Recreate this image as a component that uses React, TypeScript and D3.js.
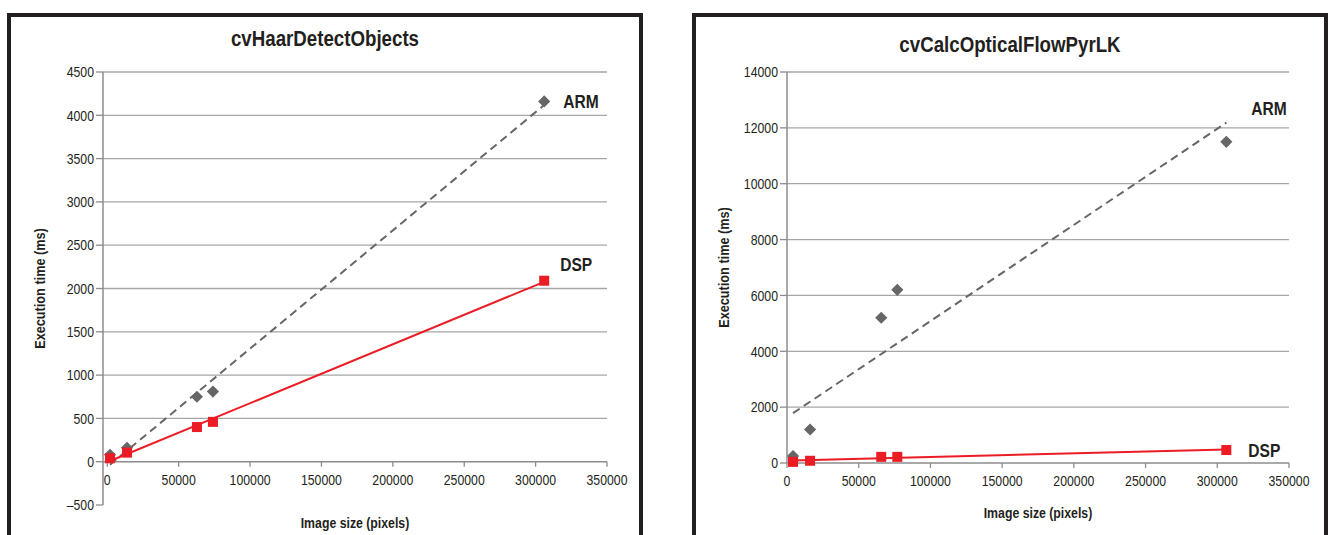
import React from 'react';
import * as d3 from 'd3';

// Image sizes (pixels) and execution times (ms)
const haarSizes = [1900, 13800, 62800, 74000, 306000];
const haarArm = [80, 160, 750, 810, 4160];
const haarDsp = [40, 105, 400, 460, 2090];

const flowSizes = [4200, 16100, 65700, 76900, 306300];
const flowArm = [250, 1200, 5200, 6200, 11500];
const flowDsp = [40, 80, 220, 220, 465];

const xTicks = [0, 50000, 100000, 150000, 200000, 250000, 300000, 350000];
const haarYTicks = [-500, 0, 500, 1000, 1500, 2000, 2500, 3000, 3500, 4000, 4500];
const flowYTicks = [0, 2000, 4000, 6000, 8000, 10000, 12000, 14000];

const FONT = '"Liberation Sans", Arial, sans-serif';
const INK = '#231f20';
const ARM_COLOR = '#666666';
const DSP_COLOR = '#ec1c24';
const GRID = '#a6a6a6';

// least squares fit, like the spreadsheet trendline
const fit = (xs: number[], ys: number[]) => {
  const mx = d3.mean(xs)!;
  const my = d3.mean(ys)!;
  const sxy = d3.sum(xs, (x, i) => (x - mx) * (ys[i] - my));
  const sxx = d3.sum(xs, x => (x - mx) ** 2);
  const slope = sxy / sxx;
  const b = my - slope * mx;
  return (x: number) => b + slope * x;
};

// narrow text: drawn at the origin of a horizontally squeezed group
const T = ({ x, y, size, bold, anchor, rotate, squeeze = 0.82, children }: any) => (
  <g transform={`translate(${x},${y})${rotate ? ` rotate(${rotate})` : ''} scale(${squeeze},1)`}>
    <text x={0} y={0} dy="0.35em" textAnchor={anchor || 'start'} fontFamily={FONT}
      fontWeight={bold ? 'bold' : 'normal'} fontSize={size} fill={INK}>{children}</text>
  </g>
);

type PanelProps = {
  title: string;
  xs: number[];
  arm: number[];
  dsp: number[];
  xMin: number;
  yTicks: number[];
  box: { left: number; right: number; top: number };
  plot: { left: number; right: number; top: number; bottom: number };
  titleY: number;
  xTitleY: number;
  yTitleX: number;
  armLabel: [number, number];
  dspLabel: [number, number];
};

const Panel = (p: PanelProps) => {
  const yMin = p.yTicks[0];
  const yMax = p.yTicks[p.yTicks.length - 1];
  const x = d3.scaleLinear().domain([p.xMin, 350000]).range([p.plot.left, p.plot.right]);
  const y = d3.scaleLinear().domain([yMin, yMax]).range([p.plot.bottom, p.plot.top]);
  const fmt = (v: number) => (v < 0 ? '\u2013' + Math.abs(v) : String(v));

  const armFit = fit(p.xs, p.arm);
  const dspFit = fit(p.xs, p.dsp);
  const ends = d3.extent(p.xs) as [number, number];
  const armPath = d3.line<number>().x(v => x(v)).y(v => y(armFit(v)))(ends) || '';
  const dspPath = d3.line<number>().x(v => x(v)).y(v => y(dspFit(v)))(ends) || '';

  const n = p.xs.length - 1;
  const lastArm = [x(p.xs[n]), y(p.arm[n])];
  const lastDsp = [x(p.xs[n]), y(p.dsp[n])];
  const axisLeft = x(p.xMin);
  const zeroY = y(0);

  return (
    <g>
      <rect x={p.box.left} y={p.box.top} width={p.box.right - p.box.left} height={600}
        fill="white" stroke={INK} strokeWidth={4} />
      <T x={(p.box.left + p.box.right) / 2} y={p.titleY} size={22} bold anchor="middle" squeeze={0.85}>{p.title}</T>

      {/* horizontal gridlines */}
      {p.yTicks.filter(t => t > 0).map(t => (
        <line key={t} x1={axisLeft} x2={p.plot.right} y1={y(t)} y2={y(t)} stroke={GRID} strokeWidth={1.3} />
      ))}

      {/* y axis */}
      <line x1={axisLeft} x2={axisLeft} y1={y(yMax)} y2={y(yMin)} stroke="#8c8c8c" strokeWidth={1.5} />
      {p.yTicks.map(t => (
        <g key={t}>
          <line x1={axisLeft - 7} x2={axisLeft} y1={y(t)} y2={y(t)} stroke="#8c8c8c" strokeWidth={1.3} />
          <T x={axisLeft - 9} y={y(t)} size={15} anchor="end">{fmt(t)}</T>
        </g>
      ))}

      {/* x axis at zero */}
      <line x1={axisLeft} x2={p.plot.right} y1={zeroY} y2={zeroY} stroke="#8c8c8c" strokeWidth={1.5} />
      {xTicks.map(t => (
        <g key={t}>
          <line x1={x(t)} x2={x(t)} y1={zeroY} y2={zeroY + 5} stroke="#8c8c8c" strokeWidth={1.3} />
          <T x={x(t)} y={zeroY + 18} size={15} anchor="middle">{fmt(t)}</T>
        </g>
      ))}

      <T x={(axisLeft + p.plot.right) / 2} y={p.xTitleY} size={15} bold anchor="middle">Image size (pixels)</T>
      <T x={p.yTitleX} y={(y(yMax) + y(yMin)) / 2} size={15.5} bold anchor="middle" rotate={-90}>Execution time (ms)</T>

      {/* trendlines */}
      <path d={armPath} stroke={ARM_COLOR} strokeWidth={2} strokeDasharray="8,5" fill="none" />
      <path d={dspPath} stroke={DSP_COLOR} strokeWidth={2} fill="none" />

      {/* markers */}
      {p.xs.map((v, i) => (
        <rect key={'a' + i} x={-4.3} y={-4.3} width={8.6} height={8.6} fill={ARM_COLOR}
          transform={`translate(${x(v)},${y(p.arm[i])}) rotate(45)`} />
      ))}
      {p.xs.map((v, i) => (
        <rect key={'d' + i} x={x(v) - 5} y={y(p.dsp[i]) - 5} width={10} height={10} fill={DSP_COLOR} />
      ))}

      <T x={lastArm[0] + p.armLabel[0]} y={lastArm[1] + p.armLabel[1]} size={19} bold>ARM</T>
      <T x={lastDsp[0] + p.dspLabel[0]} y={lastDsp[1] + p.dspLabel[1]} size={19} bold>DSP</T>
    </g>
  );
};

export default function App() {
  return (
    <svg width={1328} height={535} style={{ position: 'absolute', left: 0, top: 0, background: 'white' }}>
      <Panel
        title="cvHaarDetectObjects"
        xs={haarSizes} arm={haarArm} dsp={haarDsp}
        xMin={-3000} yTicks={haarYTicks}
        box={{ left: 9, right: 641, top: 15 }}
        plot={{ left: 103, right: 607, top: 72, bottom: 505 }}
        titleY={38} xTitleY={523} yTitleX={40}
        armLabel={[19, 0]} dspLabel={[16, -16]}
      />
      <Panel
        title="cvCalcOpticalFlowPyrLK"
        xs={flowSizes} arm={flowArm} dsp={flowDsp}
        xMin={0} yTicks={flowYTicks}
        box={{ left: 694, right: 1326, top: 15 }}
        plot={{ left: 787, right: 1289, top: 72, bottom: 463 }}
        titleY={44} xTitleY={513} yTitleX={724}
        armLabel={[25, -33]} dspLabel={[22, 0]}
      />
    </svg>
  );
}
